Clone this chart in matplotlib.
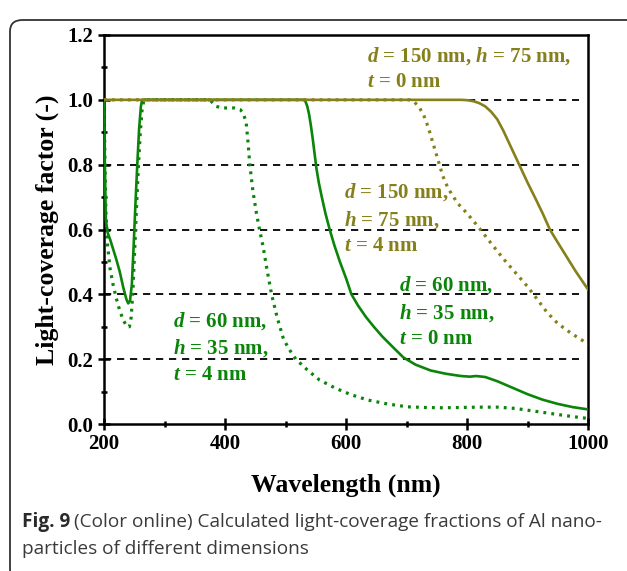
import numpy as np
import matplotlib
matplotlib.use("Agg")
import matplotlib.pyplot as plt
from matplotlib.patches import FancyBboxPatch
from matplotlib.ticker import MultipleLocator

# ---------------- data ----------------
gs_x = [200, 201, 203, 206, 210, 215, 220, 226, 232, 237, 240, 243, 246, 249, 252, 255, 258, 261, 263, 265,
        530, 533, 536, 539, 542, 545, 548, 551, 555, 560, 566, 573, 581, 590, 600, 609, 620, 633, 646, 660,
        676, 695, 715, 740, 765, 790, 805, 815, 830, 850, 875, 900, 925, 950, 975, 1000]
gs_y = [1.0, 0.85, 0.63, 0.59, 0.57, 0.54, 0.51, 0.47, 0.42, 0.385, 0.372, 0.38, 0.43, 0.55, 0.68, 0.80, 0.91, 0.98, 1.0, 1.0,
        1.0, 0.995, 0.98, 0.955, 0.92, 0.88, 0.835, 0.79, 0.745, 0.70, 0.65, 0.60, 0.55, 0.50, 0.45, 0.40, 0.365, 0.33, 0.30, 0.27,
        0.24, 0.205, 0.183, 0.165, 0.155, 0.148, 0.146, 0.148, 0.145, 0.132, 0.112, 0.092, 0.075, 0.062, 0.052, 0.045]

gd_x = [200, 201, 203, 206, 210, 215, 220, 226, 232, 238, 242, 245, 248, 251, 254, 257, 260, 263, 266, 268,
        375, 385, 395, 405, 415, 425, 430, 435, 438, 441, 446, 452, 457, 463, 470, 477, 486, 497, 508, 517,
        536, 556, 583, 609, 636, 668, 701, 730, 760, 790, 820, 850, 880, 910, 940, 970, 1000]
gd_y = [1.0, 0.88, 0.66, 0.55, 0.48, 0.43, 0.39, 0.35, 0.32, 0.30, 0.30, 0.33, 0.42, 0.55, 0.68, 0.80, 0.90, 0.97, 1.0, 1.0,
        1.0, 0.98, 0.975, 0.975, 0.975, 0.97, 0.96, 0.93, 0.87, 0.80, 0.72, 0.65, 0.60, 0.547, 0.47, 0.40, 0.33, 0.26, 0.225, 0.20,
        0.167, 0.136, 0.11, 0.09, 0.074, 0.062, 0.053, 0.051, 0.05, 0.051, 0.052, 0.052, 0.048, 0.04, 0.032, 0.024, 0.017]

os_x = [200, 790, 800, 810, 820, 830, 840, 850, 860, 870, 880, 890, 900, 912, 925, 937, 950, 965, 980, 1000]
os_y = [1.0, 1.0, 0.999, 0.996, 0.99, 0.98, 0.963, 0.94, 0.905, 0.865, 0.825, 0.785, 0.745, 0.70, 0.65, 0.60, 0.56, 0.515, 0.47, 0.415]

od_x = [200, 705, 712, 720, 728, 736, 744, 752, 760, 768, 776, 785, 800, 820, 840, 860, 880, 900, 916, 932, 950, 972, 1000]
od_y = [1.0, 1.0, 0.995, 0.98, 0.955, 0.915, 0.865, 0.815, 0.765, 0.73, 0.705, 0.68, 0.65, 0.605, 0.557, 0.51, 0.467, 0.424, 0.385, 0.345, 0.31, 0.28, 0.247]

grid_levels = [0.2, 0.4, 0.6, 0.8, 1.0]
x_ticks = [200, 400, 600, 800, 1000]
y_ticks = [0.0, 0.2, 0.4, 0.6, 0.8, 1.0, 1.2]

lbl_olive_top = "$d$ = 150 nm, $h$ = 75 nm,\n$t$ = 0 nm"
lbl_olive_mid = "$d$ = 150 nm,\n$h$ = 75 nm,\n$t$ = 4 nm"
lbl_green_right = "$d$ = 60 nm,\n$h$ = 35 nm,\n$t$ = 0 nm"
lbl_green_left = "$d$ = 60 nm,\n$h$ = 35 nm,\n$t$ = 4 nm"
caption_bold = "Fig. 9"
caption_rest_1 = "(Color online) Calculated light-coverage fractions of Al nano-"
caption_rest_2 = "particles of different dimensions"

GREEN = "#0a850a"
OLIVE = "#86801a"

# ---------------- style ----------------
plt.rcParams["font.family"] = ["Liberation Serif", "DejaVu Serif"]
plt.rcParams["font.weight"] = "bold"
plt.rcParams["mathtext.fontset"] = "custom"
plt.rcParams["mathtext.rm"] = "Liberation Serif:bold"
plt.rcParams["mathtext.it"] = "Liberation Serif:italic:bold"
plt.rcParams["mathtext.bf"] = "Liberation Serif:bold"

W, H = 627, 571
fig = plt.figure(figsize=(W / 100, H / 100), dpi=100)
ax = fig.add_axes([104 / W, 1 - 424 / H, (588 - 104) / W, (424 - 35) / H])

ax.hlines(grid_levels, 200, 985, colors="black", linestyles=(0, (4, 3.2)), linewidth=1.3, zorder=1)

ax.plot(gd_x, gd_y, color=GREEN, lw=2.3, linestyle=(0, (0.9, 1.6)), zorder=2)
ax.plot(gs_x, gs_y, color=GREEN, lw=1.9, zorder=3)
ax.plot(od_x, od_y, color=OLIVE, lw=2.3, linestyle=(0, (0.9, 1.6)), zorder=4)
ax.plot(os_x, os_y, color=OLIVE, lw=1.9, zorder=5)

ax.set_xlim(200, 1000)
ax.set_ylim(0, 1.2)
ax.set_xticks(x_ticks)
ax.set_yticks(y_ticks)
ax.set_yticklabels([f"{v:.1f}" for v in y_ticks])
ax.xaxis.set_minor_locator(MultipleLocator(100))
ax.yaxis.set_minor_locator(MultipleLocator(0.1))
ax.tick_params(which="major", direction="inout", length=9, width=1.8, labelsize=15, pad=3)
ax.tick_params(which="minor", direction="inout", length=4, width=1.8)
ax.tick_params(top=False, right=False, which="both")
for sp in ax.spines.values():
    sp.set_linewidth(1.8)

ax.set_xlabel("Wavelength (nm)", fontsize=18.5, fontweight="bold", labelpad=14)
ax.set_ylabel("Light-coverage factor (-)", fontsize=18.5, fontweight="bold", labelpad=6)

tk = dict(fontsize=15, fontweight="bold", va="top", ha="left", linespacing=1.35)
ax.text(634, 1.168, lbl_olive_top, color=OLIVE, **tk)
ax.text(596, 0.748, lbl_olive_mid, color=OLIVE, **tk)
ax.text(688, 0.462, lbl_green_right, color=GREEN, **tk)
ax.text(314, 0.352, lbl_green_left, color=GREEN, **tk)

# caption box
box = FancyBboxPatch((10 / W, -10 / H), (W + 20) / W, (H - 10) / H,
                     boxstyle="round,pad=0,rounding_size=0.02", transform=fig.transFigure,
                     fill=False, edgecolor="#333333", linewidth=1.3, clip_on=False)
fig.patches.append(box)

cap_kw = dict(fontsize=13.65, family=["Open Sans", "DejaVu Sans"], color="#3a3a3a", va="baseline", ha="left")
t1 = fig.text(22 / W, 1 - 527 / H, caption_bold, fontweight="bold", color="#2a2a2a",
              **{k: v for k, v in cap_kw.items() if k != "color"})
fig.canvas.draw()
r = fig.canvas.get_renderer()
bb = t1.get_window_extent(renderer=r)
fig.text((bb.x1 + 4) / W, 1 - 527 / H, caption_rest_1, fontweight="normal", **cap_kw)
fig.text(22 / W, 1 - 554 / H, caption_rest_2, fontweight="normal", **cap_kw)

fig.savefig("out.png", dpi=100)
